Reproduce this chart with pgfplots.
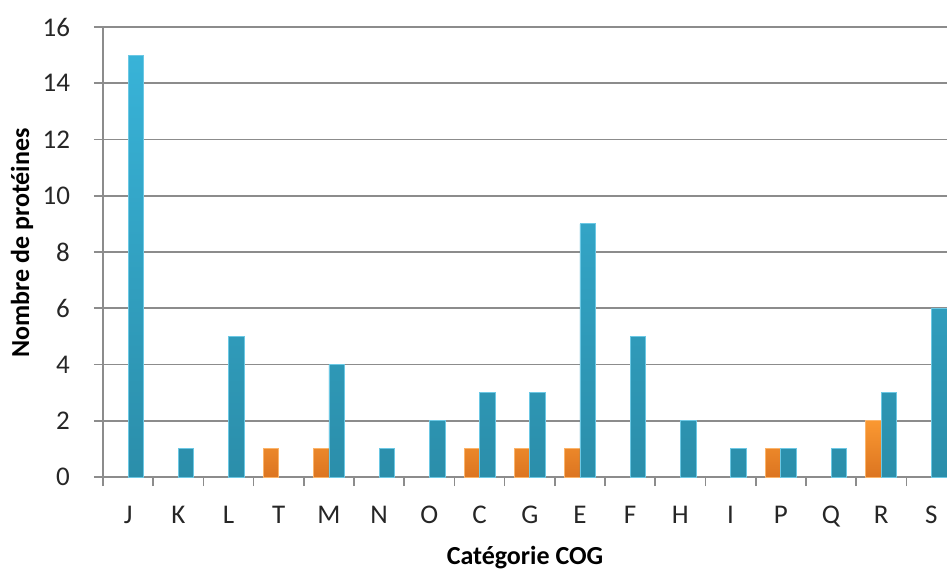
\documentclass[border=0pt]{standalone}
\usepackage{fontspec}
\setmainfont{Carlito}
\usepackage{pgfplots}
\pgfplotsset{compat=1.18}
\definecolor{blueTop}{HTML}{38B3D8}
\definecolor{blueMid}{HTML}{33A2C4}
\definecolor{blueBot}{HTML}{2B8EAA}
\definecolor{blueEdge}{HTML}{6CC8E4}
\definecolor{orTop}{HTML}{FA9831}
\definecolor{orMid}{HTML}{EC8629}
\definecolor{orBot}{HTML}{DC7521}
\definecolor{orEdge}{HTML}{FBB46A}
\definecolor{gridc}{RGB}{140,140,140}
\begin{document}
\begin{tikzpicture}
\useasboundingbox (-51.5pt,-46pt) rectangle (422pt,238.5pt);
\begin{axis}[
  at={(0,0)}, anchor=south west,
  scale only axis, width=422pt, height=225pt,
  ybar=0pt, bar width=0.31,
  xmin=-0.5, xmax=16.31,
  ymin=0, ymax=16, ytick={0,2,...,16},
  axis x line*=bottom, axis y line*=left,
  axis line style={draw=gridc, line width=0.8pt},
  ymajorgrids, grid style={draw=gridc, line width=0.8pt},
  tick style={draw=gridc, line width=0.8pt},
  tick align=outside, major tick length=4.5pt,
  xtick={-0.5,0.5,...,16.5}, xticklabels={},
  extra x ticks={0,1,...,16},
  extra x tick labels={J,K,L,T,M,N,O,C,G,E,F,H,I,P,Q,R,S},
  extra x tick style={major tick length=0pt, grid=none},
  xticklabel style={anchor=base, yshift=-23pt},
  yticklabel style={anchor=east, xshift=-8.5pt},
  /pgf/number format/assume math mode=true,
  ticklabel style={font=\fontsize{13.5}{15}\selectfont, text=black!85},
  xlabel={Catégorie COG},
  ylabel={Nombre de protéines},
  label style={font=\bfseries\fontsize{13}{15}\selectfont},
  xlabel style={at={(axis description cs:0.5,0)}, anchor=center, yshift=-40.5pt},
  ylabel style={at={(axis description cs:-0.096,0.52)}, anchor=center, rotate=0},
  clip=true,
]
\addplot[draw=orEdge, line width=0.4pt, top color=orTop, middle color=orMid, bottom color=orBot] coordinates {
  (3,1) (4,1) (7,1) (8,1) (9,1) (13,1) (15,2)
};
\addplot[draw=blueEdge, line width=0.4pt, top color=blueTop, middle color=blueMid, bottom color=blueBot] coordinates {
  (0,15) (1,1) (2,5) (4,4) (5,1) (6,2) (7,3) (8,3) (9,9) (10,5) (11,2) (12,1) (13,1) (14,1) (15,3) (16,6)
};
\end{axis}
\end{tikzpicture}
\end{document}
